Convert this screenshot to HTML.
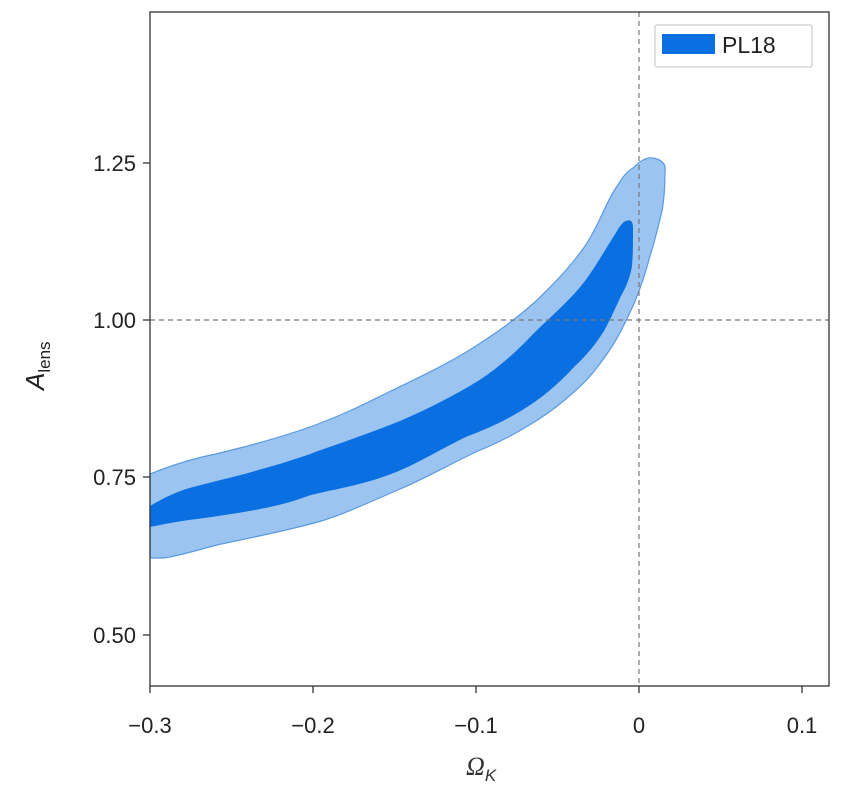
<!DOCTYPE html>
<html><head><style>body{margin:0;background:#fff}</style></head><body>
<svg width="860" height="786" xmlns="http://www.w3.org/2000/svg" font-family="Liberation Sans, sans-serif">
<rect width="860" height="786" fill="#fff"/>
<path d="M150,474 C180,462 200,457 216,454 C235,449 245,447 255,444 C280,437 300,431 318,424 C350,412 370,401 391,391 C420,377 445,365 468,351 C495,334 515,320 536,301 C555,283 572,265 585,246 C598,227 605,205 614,191 C622,178 626,172 633,168 C641,160 647,157 653,158 C663,160 666,165 665,171 C665,190 664,200 662,211 C658,228 655,240 650,256 C645,275 640,290 633,306 C625,323 618,338 609,351 C598,367 588,380 575,391 C563,402 550,412 536,421 C517,433 498,443 478,451 C452,463 426,478 400,489 C372,501 345,514 318,522 C285,531 250,538 221,544 C200,549 180,556 163,558 L150,558 Z" fill="#9cc4f0" stroke="#5a9ae0" stroke-width="1.2"/>
<path d="M150,506 C165,497 180,490 197,486 C220,480 238,476 255,471 C280,464 300,458 318,451 C350,440 375,431 400,421 C430,408 455,395 478,381 C500,367 518,350 536,331 C555,313 572,298 585,281 C598,263 606,248 614,236 C618,229 622,222 626,221 C631,219 633,222 633,228 C633,245 633,255 632,266 C630,278 626,287 621,296 C615,309 610,320 604,331 C595,345 586,356 575,366 C562,380 550,391 536,401 C515,416 492,427 468,436 C442,448 416,465 391,474 C370,482 348,487 328,491 C320,493 314,494 308,496 C292,502 276,506 260,509 C240,513 218,516 197,519 C180,521 165,524 150,527 Z" fill="#0a6fe0"/>
<g stroke="#777" stroke-width="1.2" stroke-dasharray="5,4">
<line x1="639" y1="12" x2="639" y2="686"/>
<line x1="150" y1="320" x2="829" y2="320"/>
</g>
<rect x="150" y="12" width="679" height="674" fill="none" stroke="#333" stroke-width="1.3"/>
<g stroke="#333" stroke-width="1.3">
<line x1="150" y1="686" x2="150" y2="693"/><line x1="313" y1="686" x2="313" y2="693"/><line x1="476" y1="686" x2="476" y2="693"/><line x1="639" y1="686" x2="639" y2="693"/><line x1="802" y1="686" x2="802" y2="693"/>
<line x1="143" y1="163" x2="150" y2="163"/><line x1="143" y1="320" x2="150" y2="320"/><line x1="143" y1="477" x2="150" y2="477"/><line x1="143" y1="635" x2="150" y2="635"/>
</g>
<g font-size="22" fill="#222" text-anchor="middle">
<text x="150" y="733">−0.3</text><text x="313" y="733">−0.2</text><text x="476" y="733">−0.1</text><text x="639" y="733">0</text><text x="802" y="733">0.1</text>
</g>
<g font-size="22" fill="#222" text-anchor="end">
<text x="136" y="171">1.25</text><text x="136" y="328">1.00</text><text x="136" y="485">0.75</text><text x="136" y="643">0.50</text>
</g>
<text x="466" y="775" font-size="26" font-style="italic" fill="#333" font-family="Liberation Serif, serif">Ω<tspan font-size="17" dy="6" font-family="Liberation Sans, sans-serif">K</tspan></text>
<text transform="translate(44,390) rotate(-90)" font-size="26" font-style="italic" fill="#222">A<tspan font-size="17" font-style="normal" dy="6">lens</tspan></text>
<rect x="655" y="25" width="157" height="42" fill="#fff" stroke="#ccc" stroke-width="1.2" rx="2"/>
<rect x="662" y="34" width="53" height="20" fill="#0a6fe0"/>
<text x="722" y="53" font-size="23" fill="#222">PL18</text>
</svg>
</body></html>
